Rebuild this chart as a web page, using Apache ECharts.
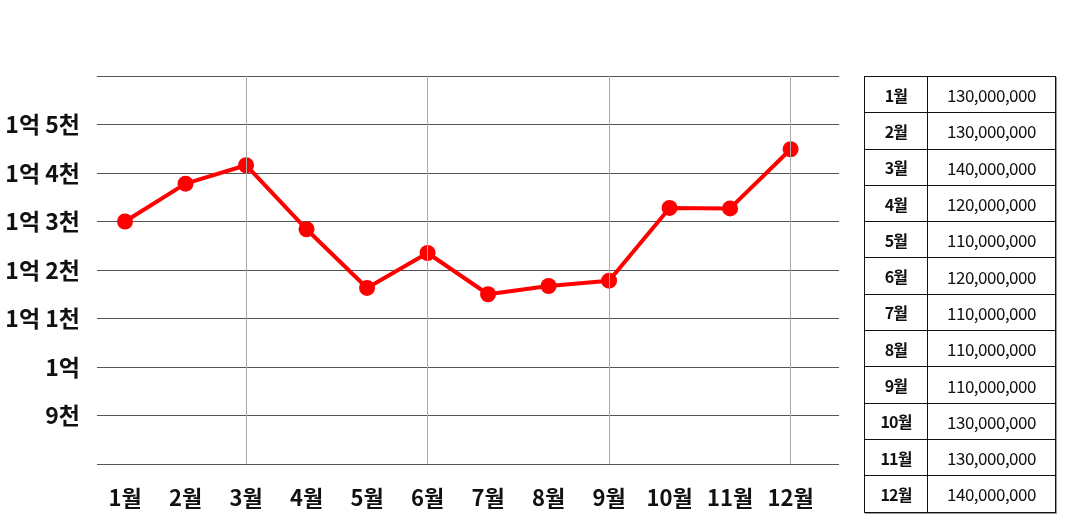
<!DOCTYPE html>
<html>
<head>
<meta charset="utf-8">
<script src="https://cdn.jsdelivr.net/npm/echarts@6/dist/echarts.min.js"></script>
<style>
  html, body { margin: 0; padding: 0; background: #fff; }
  #chart { position: absolute; left: 0; top: 0; width: 1074px; height: 524px; }
  #tbl { position: absolute; left: 864px; top: 76px; border-collapse: collapse;
         font-family: "Noto Sans CJK KR", "Noto Sans", sans-serif; color: #111;
         box-shadow: 1px 1px 0 #999; }
  #tbl td { border: 1px solid #111; height: 35.3px; padding: 0; text-align: center; }
  #tbl td.m { width: 62px; font-size: 16px; font-weight: 700; letter-spacing: -0.8px; }
  #tbl td.v { width: 127px; font-size: 17px; font-weight: 400; letter-spacing: -0.5px; }
</style>
</head>
<body>
<div id="chart"></div>
<table id="tbl"></table>
<script>
// ---- data ----
const months = ['1월','2월','3월','4월','5월','6월','7월','8월','9월','10월','11월','12월'];
const prices = [130000000, 137800000, 141600000, 128400000, 116300000, 123500000,
                115000000, 116700000, 117800000, 132800000, 132700000, 144900000];
const tableValues = [130000000, 130000000, 140000000, 120000000, 110000000, 120000000,
                     110000000, 110000000, 110000000, 130000000, 130000000, 140000000];
const yTickValues = [90000000, 100000000, 110000000, 120000000, 130000000, 140000000, 150000000];
const yTickLabels = ['9천', '1억', '1억 1천', '1억 2천', '1억 3천', '1억 4천', '1억 5천'];
const quarterMonths = [3, 6, 9, 12];

// ---- table ----
const tbl = document.getElementById('tbl');
months.forEach((m, i) => {
  const tr = document.createElement('tr');
  const a = document.createElement('td'); a.className = 'm'; a.textContent = m;
  const b = document.createElement('td'); b.className = 'v';
  b.textContent = tableValues[i].toLocaleString('en-US');
  tr.appendChild(a); tr.appendChild(b); tbl.appendChild(tr);
});

// ---- chart ----
const chart = echarts.init(document.getElementById('chart'), null, { renderer: 'canvas' });
const font = '"Noto Sans CJK KR", "Noto Sans", sans-serif';
const idx = months.map((_, i) => i + 1);
chart.setOption({
  animation: false,
  grid: { left: 97, right: 235, top: 76, bottom: 60, containLabel: false },
  xAxis: {
    type: 'value', min: 0.537, max: 12.8,
    axisLine: { show: false }, axisTick: { show: false }, splitLine: { show: false },
    axisLabel: {
      customValues: idx,
      formatter: v => months[Math.round(v) - 1] || '',
      color: '#111', fontSize: 22, fontWeight: 'bold', fontFamily: font, margin: 23
    }
  },
  yAxis: {
    type: 'value', min: 80000000, max: 160000000, interval: 10000000,
    axisLine: { show: false }, axisTick: { show: false },
    splitLine: { show: true, lineStyle: { color: '#555', width: 1 } },
    axisLabel: {
      formatter: v => { const k = yTickValues.indexOf(v); return k >= 0 ? yTickLabels[k] : ''; },
      color: '#111', fontSize: 23, fontWeight: 'bold', fontFamily: font, margin: 17
    }
  },
  series: [
    {
      type: 'line', data: [], z: 1, silent: true,
      markLine: {
        silent: true, symbol: 'none', label: { show: false },
        lineStyle: { color: '#aaa', width: 1, type: 'solid' },
        data: quarterMonths.map(q => ({ xAxis: q }))
      }
    },
    {
      type: 'line', z: 3,
      data: prices.map((p, i) => [idx[i], p]),
      symbol: 'circle', symbolSize: 16,
      itemStyle: { color: '#ff0000' },
      lineStyle: { color: '#ff0000', width: 4 }
    }
  ]
});
</script>
</body>
</html>
